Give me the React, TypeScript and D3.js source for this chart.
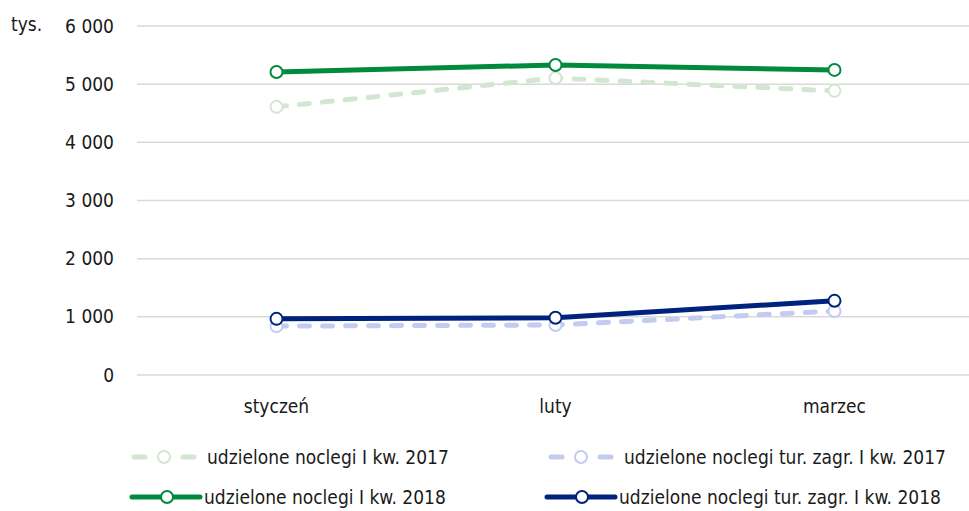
import { useEffect, useRef } from "react";
import * as d3 from "d3";

const months = ["styczeń", "luty", "marzec"];
const nocl2017 = [4610, 5105, 4885];
const nocl2018 = [5210, 5330, 5245];
const zagr2017 = [840, 860, 1100];
const zagr2018 = [965, 985, 1275];
const yTicks = [0, 1000, 2000, 3000, 4000, 5000, 6000];

const series = [
  { name: "udzielone noclegi I kw. 2017", values: nocl2017, color: "#d3e6d2", dashed: true },
  { name: "udzielone noclegi tur. zagr. I kw. 2017", values: zagr2017, color: "#c4cbf0", dashed: true },
  { name: "udzielone noclegi I kw. 2018", values: nocl2018, color: "#008a3e", dashed: false },
  { name: "udzielone noclegi tur. zagr. I kw. 2018", values: zagr2018, color: "#00227f", dashed: false },
];

const FONT = "'Liberation Sans Narrow', 'DejaVu Sans Condensed', 'Roboto', sans-serif";

export default function App() {
  const ref = useRef<SVGSVGElement>(null);

  useEffect(() => {
    const svg = d3.select(ref.current);
    svg.selectAll("*").remove();

    const x = d3.scalePoint<string>().domain(months).range([137, 974]).padding(0.5);
    const y = d3.scaleLinear().domain([0, 6000]).range([375, 26]);
    const fmt = (v: number) => d3.format(",")(v).replace(/,/g, " ");

    // siatka i etykiety osi Y
    const grid = svg.append("g");
    grid
      .selectAll("line")
      .data(yTicks)
      .enter()
      .append("line")
      .attr("x1", 137)
      .attr("x2", 969)
      .attr("y1", d => y(d))
      .attr("y2", d => y(d))
      .attr("stroke", "#d9d9d9")
      .attr("stroke-width", 1.5);
    grid
      .selectAll("text")
      .data(yTicks)
      .enter()
      .append("text")
      .attr("x", 114)
      .attr("y", d => y(d))
      .attr("dy", "0.35em")
      .attr("text-anchor", "end")
      .attr("font-size", 19)
      .attr("font-family", FONT)
      .attr("fill", "#1a1a1a")
      .text(d => fmt(d));

    svg
      .append("text")
      .attr("x", 11)
      .attr("y", 31)
      .attr("font-size", 19)
      .attr("font-family", FONT)
      .attr("fill", "#1a1a1a")
      .text("tys.");

    svg
      .append("g")
      .selectAll("text")
      .data(months)
      .enter()
      .append("text")
      .attr("x", d => x(d) as number)
      .attr("y", 413)
      .attr("text-anchor", "middle")
      .attr("font-size", 19)
      .attr("font-family", FONT)
      .attr("fill", "#1a1a1a")
      .text(d => d);

    const line = d3
      .line<number>()
      .x((_, i) => x(months[i]) as number)
      .y(d => y(d));

    series.forEach(s => {
      const g = svg.append("g");
      g.append("path")
        .attr("d", line(s.values))
        .attr("fill", "none")
        .attr("stroke", s.color)
        .attr("stroke-width", 5)
        .attr("stroke-linecap", "round")
        .attr("stroke-dasharray", s.dashed ? "10 13" : null);
      g.selectAll("circle")
        .data(s.values)
        .enter()
        .append("circle")
        .attr("cx", (_, i) => x(months[i]) as number)
        .attr("cy", d => y(d))
        .attr("r", 6)
        .attr("fill", "#fff")
        .attr("stroke", s.color)
        .attr("stroke-width", 2);
    });

    // legenda
    const legendPos = [
      { x: 131, y: 457 },
      { x: 548, y: 457 },
      { x: 130, y: 497 },
      { x: 545, y: 497 },
    ];
    series.forEach((s, i) => {
      const p = legendPos[i];
      const g = svg.append("g").attr("transform", `translate(${p.x},${p.y})`);
      if (s.dashed) {
        g.append("line").attr("x1", 3).attr("x2", 14).attr("y1", 0).attr("y2", 0)
          .attr("stroke", s.color).attr("stroke-width", 5).attr("stroke-linecap", "round");
        g.append("line").attr("x1", 52).attr("x2", 63).attr("y1", 0).attr("y2", 0)
          .attr("stroke", s.color).attr("stroke-width", 5).attr("stroke-linecap", "round");
        g.append("circle").attr("cx", 33).attr("cy", 0).attr("r", 6)
          .attr("fill", "#fff").attr("stroke", s.color).attr("stroke-width", 2);
      } else {
        g.append("line").attr("x1", 2).attr("x2", 70).attr("y1", 0).attr("y2", 0)
          .attr("stroke", s.color).attr("stroke-width", 5).attr("stroke-linecap", "round");
        g.append("circle").attr("cx", 37).attr("cy", 0).attr("r", 6)
          .attr("fill", "#fff").attr("stroke", s.color).attr("stroke-width", 2);
      }
      g.append("text")
        .attr("x", s.dashed ? 76 : 74)
        .attr("y", 0)
        .attr("dy", "0.35em")
        .attr("font-size", 19)
        .attr("font-family", FONT)
        .attr("fill", "#1a1a1a")
        .text(s.name);
    });
  }, []);

  return (
    <svg
      ref={ref}
      width={969}
      height={511}
      style={{ position: "absolute", left: 0, top: 0, background: "#fff" }}
    />
  );
}
